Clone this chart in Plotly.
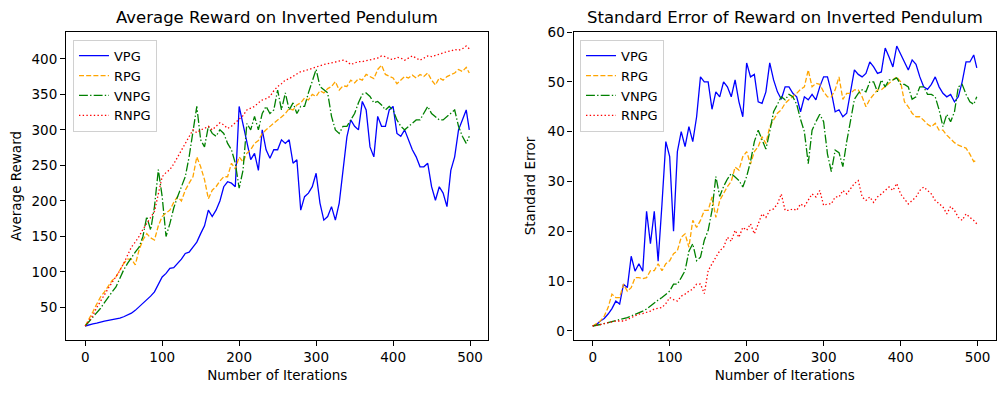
import plotly.graph_objects as go
from plotly.subplots import make_subplots

iters = list(range(0, 500, 5)) + [499]
names = ["VPG", "RPG", "VNPG", "RNPG"]

# average reward (every 5 iterations)
avg_vpg = [24, 26, 27, 28, 30, 31, 32, 33, 33, 35,
           37, 39, 42, 46, 51, 55, 61, 66, 72, 82,
           93, 98, 105, 106, 112, 118, 126, 128, 135, 142,
           154, 165, 187, 178, 187, 200, 220, 227, 225, 220,
           333, 309, 286, 258, 267, 243, 300, 272, 260, 272,
           272, 286, 281, 286, 253, 258, 187, 206, 211, 220,
           239, 197, 173, 178, 192, 173, 197, 243, 290, 314,
           305, 300, 340, 328, 276, 262, 319, 305, 305, 328,
           333, 295, 291, 300, 286, 272, 262, 248, 248, 253,
           220, 201, 220, 211, 192, 243, 262, 300, 314, 328,
           300]
avg_rpg = [24, 33, 44, 55, 65, 72, 81, 88, 93, 102,
           112, 118, 118, 110, 131, 145, 154, 148, 145, 165,
           178, 183, 187, 198, 206, 200, 215, 225, 234, 262,
           248, 230, 203, 215, 220, 228, 234, 234, 253, 245,
           262, 255, 267, 272, 281, 285, 295, 300, 305, 310,
           314, 318, 323, 330, 328, 335, 338, 345, 342, 350,
           347, 355, 352, 358, 361, 368, 356, 362, 361, 370,
           366, 372, 370, 378, 375, 372, 385, 391, 378, 375,
           373, 365, 370, 375, 373, 377, 373, 378, 375, 380,
           370, 363, 373, 370, 375, 378, 380, 385, 382, 388,
           380]
avg_vnpg = [24, 30, 37, 43, 49, 57, 65, 72, 79, 92,
            103, 112, 121, 128, 135, 150, 178, 159, 192, 244,
            206, 150, 168, 190, 206, 220, 234, 262, 300, 333,
            286, 276, 305, 295, 291, 300, 295, 281, 272, 253,
            218, 243, 309, 300, 319, 300, 323, 333, 323, 328,
            356, 328, 352, 328, 338, 323, 333, 333, 352, 370,
            385, 361, 356, 352, 319, 300, 295, 305, 305, 314,
            323, 338, 350, 352, 347, 338, 340, 335, 328, 333,
            328, 314, 305, 300, 305, 309, 314, 314, 323, 333,
            323, 319, 314, 314, 319, 323, 328, 305, 291, 281,
            291]
avg_rnpg = [24, 32, 39, 50, 60, 68, 77, 85, 93, 102,
            112, 124, 135, 142, 150, 160, 168, 176, 185, 210,
            234, 240, 244, 252, 262, 272, 281, 290, 300, 296,
            300, 302, 305, 300, 305, 310, 307, 302, 305, 310,
            314, 320, 328, 330, 333, 338, 342, 344, 347, 355,
            361, 365, 370, 372, 375, 378, 382, 383, 385, 387,
            389, 390, 392, 393, 394, 395, 396, 398, 396, 392,
            394, 396, 396, 397, 399, 400, 401, 404, 403, 400,
            399, 402, 401, 398, 401, 404, 401, 398, 401, 404,
            403, 405, 406, 408, 410, 411, 413, 412, 414, 418,
            414]

# standard error (right panel)
se_vpg = [1, 1.3, 2, 2.5, 3.4, 4.5, 6, 5.4, 9.4, 8.7,
          15, 12, 13.5, 12, 24, 17.5, 24, 14, 25.5, 38,
          35, 20, 36, 40, 37, 41, 38, 43, 51, 50,
          50, 44.5, 48, 47, 50, 49, 47, 50.4, 46, 43,
          53.8, 51, 51.5, 46, 45.7, 48, 53.8, 50.4, 48, 46.5,
          49, 49, 47.7, 47, 44, 47, 46.4, 47.5, 46.4, 49,
          51, 51, 48, 44, 44.4, 43, 43.7, 48, 52.4, 51.5,
          51, 51.7, 54, 53, 51.7, 52, 56.8, 55, 53, 57.2,
          55.5, 54, 52.4, 54.4, 53.5, 51, 49, 48.5, 49.5, 51,
          49, 47.7, 47, 47.5, 46, 47, 50, 54, 54, 55.4,
          52.8]
se_rpg = [1, 1.5, 2, 3, 4.7, 7.4, 6.7, 6.7, 9.4, 8,
          8.7, 10.7, 10.7, 10.5, 10.7, 12.1, 12.1, 13.5, 12.1, 13.5,
          14.1, 15.5, 16.1, 18.8, 19.5, 16.8, 22.2, 20.8, 22.2, 24.2,
          24.2, 26.9, 22.8, 26.2, 27.5, 29, 30, 32.9, 32.3, 35,
          36, 33.5, 36, 37, 39, 37.6, 41, 42.5, 43.7, 44.4,
          45.7, 46.4, 47, 47.7, 48.5, 49, 52.4, 49, 49.7, 49.5,
          48, 47, 47, 48.4, 51, 46.5, 47.7, 47.7, 48.4, 48.4,
          47, 45, 46.5, 47.5, 48.4, 48.4, 49, 49.7, 50.4, 51,
          50, 46, 45, 43.7, 43, 43, 42.3, 41.5, 41, 41.7,
          40.3, 40.3, 39.3, 38.5, 37.8, 37.3, 37, 36.7, 35.5, 34,
          34.3]
se_vnpg = [1, 1.1, 1.3, 1.5, 1.7, 1.8, 2, 2.2, 2.4, 2.7,
           3, 3.3, 3.7, 4, 4.4, 5, 5.7, 6.2, 6.7, 7.4,
           8, 9.4, 9.4, 10.7, 12.1, 16, 17.5, 14.1, 14.8, 18.2,
           20.2, 24.2, 31, 27, 29, 30.5, 31.6, 30.9, 30.2, 28.9,
           31, 34, 38, 40.3, 38.3, 36.5, 40, 44, 45.5, 47,
           46.4, 47.5, 47, 45.5, 42.5, 40, 33.6, 40.3, 42, 43.5,
           42, 35.5, 32, 36.3, 35.8, 33, 38, 42.5, 46.5, 47.7,
           48.4, 48, 50, 50, 48, 50.4, 49, 50.4, 50.4, 50.8,
           49.5, 49.5, 49, 46.5, 47, 49, 49, 47.5, 47.5, 47,
           44.4, 41, 43.5, 42, 44, 49, 49.5, 47.5, 46, 45.5,
           47]
se_rnpg = [1, 1.1, 1.3, 1.5, 1.7, 1.8, 2, 2, 2, 2.3,
           2.7, 3, 3.4, 3.5, 3.7, 4, 4.4, 4.5, 4.7, 5.5,
           6.7, 6.3, 6, 7, 7.4, 8, 8.4, 9.4, 9.4, 7.5,
           12.1, 13.5, 14.8, 16.1, 16.8, 18.8, 18, 20.2, 18.8, 20.8,
           20.2, 21.5, 19.5, 21.5, 23.5, 22.8, 24.2, 24.5, 25.5, 27.5,
           24.2, 24.2, 24.5, 24.2, 25.5, 25, 26.2, 27.5, 26.9, 28.2,
           25.2, 25.5, 25.5, 26.9, 26.9, 28.2, 27.5, 28.5, 29.6, 30.2,
           26.9, 26.2, 26.9, 25.8, 26.9, 27.5, 28.2, 28.9, 28.2, 29.6,
           27.5, 26.5, 25.5, 26.2, 26.9, 28.2, 28.9, 28.2, 27.5, 26.2,
           25.5, 24.9, 23.5, 25, 24.2, 22.8, 22.2, 23.5, 22.8, 22.2,
           21.5]

avg_series = [avg_vpg, avg_rpg, avg_vnpg, avg_rnpg]
se_series = [se_vpg, se_rpg, se_vnpg, se_rnpg]

colors = ["blue", "orange", "green", "red"]
dashes = ["solid", "5px,2.2px", "8.9px,2.2px,1.4px,2.2px", "1.4px,2.3px"]

FONT = "DejaVu Sans"

fig = make_subplots(
    rows=1, cols=2,
    horizontal_spacing=0.0914,
    subplot_titles=("Average Reward on Inverted Pendulum",
                    "Standard Error of Reward on Inverted Pendulum"),
)

for col, series, leg in [(1, avg_series, "legend"), (2, se_series, "legend2")]:
    for name, ys, c, d in zip(names, series, colors, dashes):
        fig.add_trace(
            go.Scatter(x=iters, y=ys, mode="lines", name=name,
                       line=dict(color=c, width=1.3, dash=d), legend=leg),
            row=1, col=col,
        )


def padded(vals, frac=0.05):
    lo, hi = min(vals), max(vals)
    p = (hi - lo) * frac
    return [lo - p, hi + p]


axis_style = dict(
    showline=True, mirror=True, linecolor="black", linewidth=1.1,
    ticks="outside", ticklen=5, tickwidth=1.1, tickcolor="black",
    showgrid=False, zeroline=False, automargin=False,
    tickfont=dict(family=FONT, size=13.5, color="black"),
    title_font=dict(family=FONT, size=13.5, color="black"),
)

fig.update_xaxes(**axis_style, range=padded(iters), tickvals=[0, 100, 200, 300, 400, 500],
                 title_text="Number of Iterations", title_standoff=6)
fig.update_yaxes(**axis_style)
fig.update_yaxes(range=padded(sum(avg_series, [])), tickvals=list(range(50, 401, 50)),
                 title_text="Average Reward", title_standoff=8, row=1, col=1)
fig.update_yaxes(range=padded(sum(se_series, [])), tickvals=list(range(0, 61, 10)),
                 title_text="Standard Error", title_standoff=8, row=1, col=2)

for ann in fig.layout.annotations:
    ann.font = dict(family=FONT, size=16.5, color="black")
    ann.yshift = 3

legend_style = dict(
    yanchor="top", y=0.975, xanchor="left",
    bgcolor="rgba(255,255,255,0.8)", bordercolor="#d0d0d0", borderwidth=1,
    font=dict(family=FONT, size=13, color="black"),
    tracegroupgap=0, itemwidth=30,
)

# the page body adds an 8px offset, so margins are shifted to compensate
fig.update_layout(
    width=1005, height=393,
    margin=dict(l=58, r=17, t=24, b=61),
    plot_bgcolor="white", paper_bgcolor="white",
    font=dict(family=FONT, color="black"),
    legend=dict(x=0.0075, **legend_style),
    legend2=dict(x=0.5527, **legend_style),
)

fig.write_html("out.html")
